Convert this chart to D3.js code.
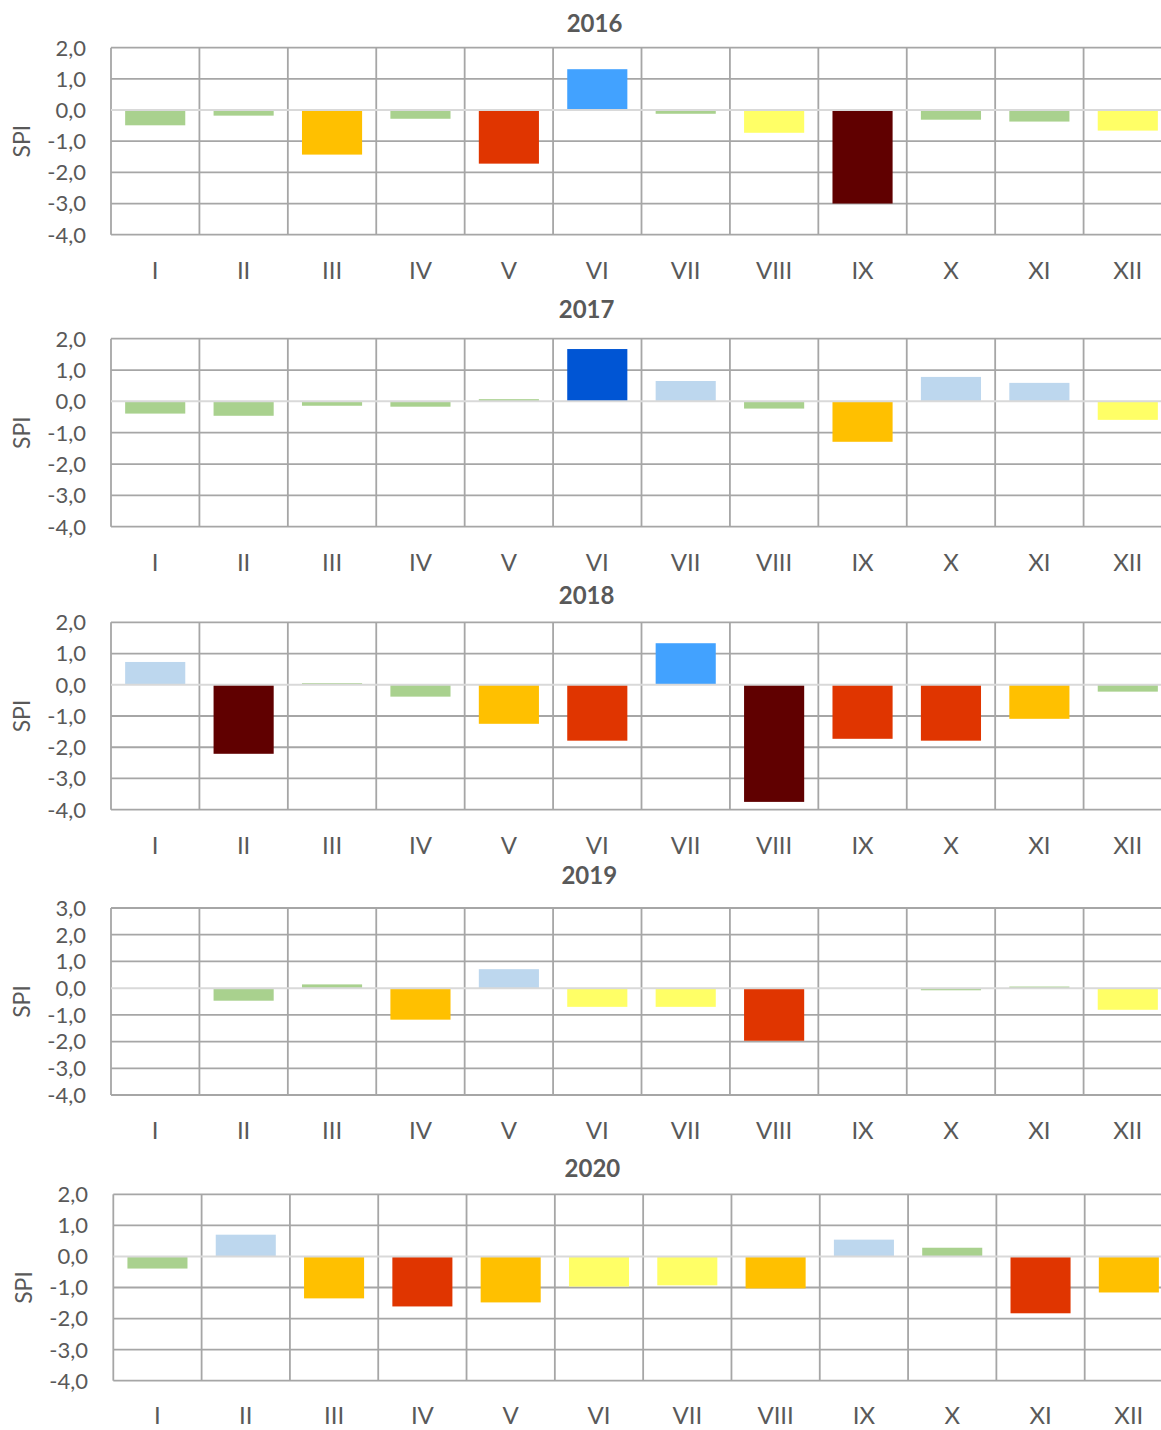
<!DOCTYPE html>
<html>
<head>
<meta charset="utf-8">
<script src="https://cdn.jsdelivr.net/npm/d3@7"></script>
<style>
  html, body { margin: 0; padding: 0; background: #fff; }
  svg { display: block; }
  text { font-family: Lato, "Open Sans", sans-serif; fill: #595959; }
</style>
</head>
<body>
<svg id="chart" width="1161" height="1430"></svg>
<script>
// ---- data ----
const months = ["I", "II", "III", "IV", "V", "VI", "VII", "VIII", "IX", "X", "XI", "XII"];
const years = ["2016", "2017", "2018", "2019", "2020"];
const spi2016 = [-0.49, -0.18, -1.43, -0.28, -1.72, 1.31, -0.12, -0.73, -3.0, -0.31, -0.37, -0.66];
const spi2017 = [-0.39, -0.46, -0.14, -0.17, 0.07, 1.67, 0.65, -0.23, -1.29, 0.78, 0.59, -0.59];
const spi2018 = [0.73, -2.21, 0.05, -0.38, -1.25, -1.79, 1.33, -3.75, -1.73, -1.79, -1.09, -0.22];
const spi2019 = [0.0, -0.47, 0.14, -1.18, 0.71, -0.70, -0.70, -1.97, 0.0, -0.08, 0.06, -0.81];
const spi2020 = [-0.39, 0.70, -1.35, -1.61, -1.48, -0.97, -0.93, -1.03, 0.54, 0.28, -1.83, -1.16];
const yDomains = [[-4, 2], [-4, 2], [-4, 2], [-4, 3], [-4, 2]];
const classBreaks = [-2, -1.5, -1, -0.5, 0.5, 1, 1.5, 2];
const classColors = ["#600000", "#E03500", "#FFC000", "#FFFF66", "#A9D18E", "#BDD7EE", "#42A2FF", "#0055D4", "#002E8A"];

const seriesList = [spi2016, spi2017, spi2018, spi2019, spi2020];

// ---- layout (positions only) ----
const layouts = [
  { left: 111,   right: 1172, top: 47.7,   bottom: 234.7,  titleX: 594.5, titleY: 31.5,  xLabY: 279,  yLabR: 86, spiX: 21.6 },
  { left: 111,   right: 1172, top: 338.7,  bottom: 526.7,  titleX: 586.6, titleY: 318,   xLabY: 571,  yLabR: 86, spiX: 21.6 },
  { left: 111,   right: 1172, top: 622.3,  bottom: 809.7,  titleX: 586.6, titleY: 604,   xLabY: 854,  yLabR: 86, spiX: 21.6 },
  { left: 111,   right: 1172, top: 908,    bottom: 1095,   titleX: 589.3, titleY: 884,   xLabY: 1139, yLabR: 86, spiX: 21.6 },
  { left: 113.3, right: 1173, top: 1194.3, bottom: 1380.7, titleX: 592.4, titleY: 1177,  xLabY: 1424, yLabR: 88, spiX: 24 }
];

const svg = d3.select("#chart");
const color = d3.scaleThreshold().domain(classBreaks).range(classColors);
const fmt = v => d3.format(".1f")(v).replace(".", ",").replace("−", "-");

years.forEach((yr, i) => {
  const L = layouts[i];
  const data = months.map((m, j) => ({ m, v: seriesList[i][j] }));
  const dom = yDomains[i];

  const x = d3.scaleBand().domain(months).range([L.left, L.right]).paddingInner(0.32).paddingOuter(0.16);
  const xGrid = d3.scaleBand().domain(months).range([L.left, L.right]).padding(0);
  const y = d3.scaleLinear().domain(dom).range([L.bottom, L.top]);
  const ticks = d3.range(dom[0], dom[1] + 1, 1);

  const g = svg.append("g");

  // horizontal gridlines
  g.selectAll(".hg").data(ticks.filter(t => t !== 0)).join("line")
    .attr("x1", L.left).attr("x2", L.right)
    .attr("y1", d => y(d)).attr("y2", d => y(d))
    .attr("stroke", "#A6A6A6").attr("stroke-width", 1.8);

  // vertical gridlines (category boundaries)
  const bounds = months.map(m => xGrid(m)).concat([L.right]);
  g.selectAll(".vg").data(bounds).join("line")
    .attr("x1", d => d).attr("x2", d => d)
    .attr("y1", L.top).attr("y2", L.bottom)
    .attr("stroke", "#A6A6A6").attr("stroke-width", 1.8);

  // bars
  g.selectAll(".bar").data(data.filter(d => d.v !== 0)).join("rect")
    .attr("x", d => x(d.m))
    .attr("width", x.bandwidth())
    .attr("y", d => Math.min(y(0), y(d.v)))
    .attr("height", d => Math.abs(y(d.v) - y(0)))
    .attr("fill", d => color(d.v));

  // zero axis line
  g.append("line")
    .attr("x1", L.left).attr("x2", L.right)
    .attr("y1", y(0)).attr("y2", y(0))
    .attr("stroke", "#D9D9D9").attr("stroke-width", 2);

  // y tick labels
  g.selectAll(".yl").data(ticks).join("text")
    .attr("x", L.yLabR)
    .attr("y", d => y(d) + 7.9)
    .attr("text-anchor", "end")
    .style("font-size", "22px")
    .text(d => fmt(d));

  // x labels
  g.selectAll(".xl").data(months).join("text")
    .attr("x", d => x(d) + x.bandwidth() / 2)
    .attr("y", L.xLabY)
    .attr("text-anchor", "middle")
    .style("font-size", "24px")
    .text(d => d);

  // title
  g.append("text")
    .attr("x", L.titleX).attr("y", L.titleY)
    .attr("text-anchor", "middle")
    .style("font-size", "24px").style("font-weight", "bold")
    .text(yr);

  // y axis title
  const cy = (L.top + L.bottom) / 2;
  g.append("text")
    .attr("transform", `translate(${L.spiX + 8},${cy}) rotate(-90)`)
    .attr("text-anchor", "middle")
    .style("font-size", "23px")
    .text("SPI");
});
</script>
</body>
</html>
